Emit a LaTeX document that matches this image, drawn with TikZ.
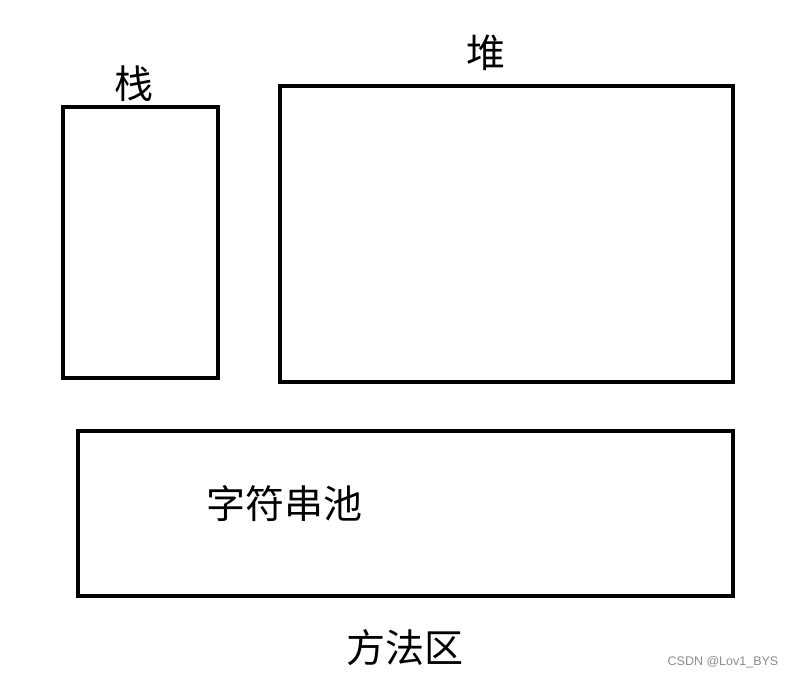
\documentclass[tikz,border=0pt]{standalone}
\usepackage{fontspec}
\newfontfamily\cjk{Noto Sans CJK SC}
\newfontfamily\wm{Liberation Sans}
\begin{document}
\begin{tikzpicture}[x=1pt,y=-1pt,
  area/.style={draw=black,line width=4.5pt},
  lbl/.style={font=\cjk\fontsize{39}{44}\selectfont,inner sep=0pt,anchor=center},
  wmark/.style={font=\wm\fontsize{12.5}{14}\selectfont,text=black!45,inner sep=0pt}]
\useasboundingbox[fill=white] (0,0) rectangle (795,678);
\draw[area] (63,107) rectangle (218,378);
\draw[area] (280,86) rectangle (733,382);
\draw[area] (78,431) rectangle (733,596);
\node[lbl] (zhan) at (134,84) {栈};
\node[lbl] (dui) at (486,53) {堆};
\node[lbl] (pool) at (284,504) {字符串池};
\node[lbl] (method) at (405,648) {方法区};
\node[wmark] (wmk) at (723,662) {CSDN @Lov1\_BYS};
\end{tikzpicture}
\end{document}
